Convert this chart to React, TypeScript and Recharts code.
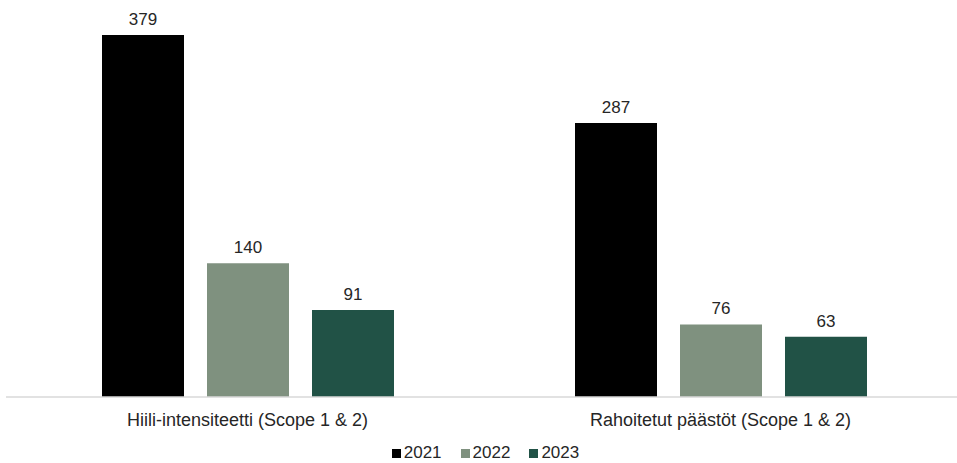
import React from 'react';
import { BarChart, Bar, XAxis, YAxis, Legend, LabelList } from 'recharts';

const categories = ['Hiili-intensiteetti (Scope 1 & 2)', 'Rahoitetut päästöt (Scope 1 & 2)'];
const values2021 = [379, 287];
const values2022 = [140, 76];
const values2023 = [91, 63];

const seriesNames = ['2021', '2022', '2023'];
const seriesColors = ['#000000', '#7F917F', '#215246'];

const data = categories.map((name, i) => ({
  name,
  y2021: values2021[i],
  y2022: values2022[i],
  y2023: values2023[i],
}));

const textColor = '#262626';
const fontFamily = '"Liberation Sans", Arial, sans-serif';

const LegendContent = () => (
  <div
    style={{
      height: 30,
      boxSizing: 'border-box',
      paddingTop: 10,
      display: 'flex',
      justifyContent: 'center',
      alignItems: 'center',
      fontFamily,
      fontSize: 17,
      color: textColor,
      paddingLeft: 8,
    }}
  >
    {seriesNames.map((n, i) => (
      <div key={n} style={{ display: 'flex', alignItems: 'center', marginRight: i < 2 ? 19 : 0 }}>
        <span style={{ width: 9, height: 9, background: seriesColors[i], display: 'inline-block', marginRight: 3 }} />
        <span>{n}</span>
      </div>
    ))}
  </div>
);

const App: React.FC = () => {
  return (
    <div style={{ position: 'absolute', left: 0, top: 0, width: 957, height: 463, background: '#fff' }}>
      <BarChart
        width={957}
        height={463}
        data={data}
        margin={{ top: 15, right: 0, left: 6, bottom: 0 }}
        barSize={82}
        barGap={23}
      >
        <XAxis
          dataKey="name"
          axisLine={{ stroke: '#D9D9D9', strokeWidth: 1.5 }}
          tickLine={false}
          tickSize={6}
          tickMargin={10}
          height={36}
          padding={{ left: 5, right: 0 }}
          tick={{ fill: textColor, fontSize: 18, fontFamily }}
          interval={0}
        />
        <YAxis hide domain={[0, 400]} />
        <Legend verticalAlign="bottom" height={30} content={<LegendContent />} />
        <Bar dataKey="y2021" name="2021" fill={seriesColors[0]} isAnimationActive={false}>
          <LabelList dataKey="y2021" position="top" offset={10} fill={textColor} fontSize={17} fontFamily={fontFamily} />
        </Bar>
        <Bar dataKey="y2022" name="2022" fill={seriesColors[1]} isAnimationActive={false}>
          <LabelList dataKey="y2022" position="top" offset={10} fill={textColor} fontSize={17} fontFamily={fontFamily} />
        </Bar>
        <Bar dataKey="y2023" name="2023" fill={seriesColors[2]} isAnimationActive={false}>
          <LabelList dataKey="y2023" position="top" offset={10} fill={textColor} fontSize={17} fontFamily={fontFamily} />
        </Bar>
      </BarChart>
    </div>
  );
};

export default App;
